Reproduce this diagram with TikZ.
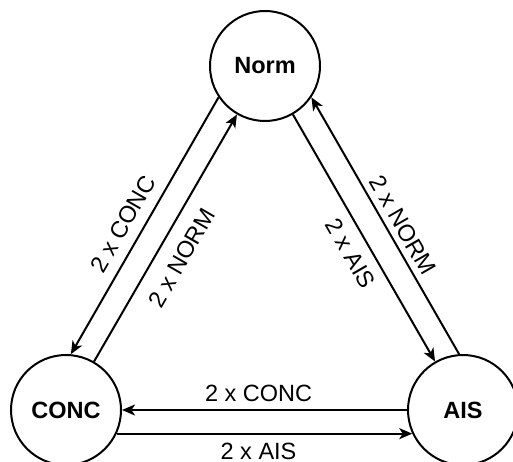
\documentclass[tikz,border=0pt]{standalone}
\usepackage{fontspec}
\setmainfont{Liberation Sans}
\usetikzlibrary{calc,arrows.meta}
\begin{document}
\begin{tikzpicture}[x=1pt,y=-1pt,
  state/.style={circle,draw,line width=2pt,minimum size=110pt,inner sep=0pt,font=\fontsize{23.5}{28}\selectfont\bfseries},
  flow/.style={line width=2pt,-{Stealth[length=13pt,width=11pt,inset=3.5pt]}},
  lbl/.style={font=\fontsize{23.5}{28}\selectfont,inner sep=0pt}]
\useasboundingbox (0,0) rectangle (513,462);
\clip (0,0) rectangle (513,462);
\node[state] (norm) at (265,66) {Norm};
\node[state] (conc) at (66,410) {CONC};
\node[state] (ais) at (463,410) {AIS};
\draw[flow] (norm.214.1) -- (conc.85.9);
\draw[flow] (conc) -- (norm);
\draw[flow] (norm) -- (ais);
\draw[flow] (ais.94.1) -- (norm.-34.1);
\draw[flow] (ais) -- (conc);
\draw[flow] (conc.-25.9) -- (ais.205.9);
\node[lbl,rotate=60] (l1) at ($(norm)!0.523!(conc)+(-37.8,-21.9)$) {2 x CONC};
\node[lbl,rotate=60] (l2) at ($(norm)!0.523!(conc)+(20.8,12)$) {2 x NORM};
\node[lbl,rotate=-60] (l3) at ($(norm)!0.517!(ais)+(-16.9,9.75)$) {2 x AIS};
\node[lbl,rotate=-60] (l4) at ($(norm)!0.521!(ais)+(34.6,-20)$) {2 x NORM};
\node[lbl] (l5) at ($(conc)!0.485!(ais)+(0,-16.5)$) {2 x CONC};
\node[lbl] (l6) at ($(conc)!0.485!(ais)+(0,41.5)$) {2 x AIS};
\end{tikzpicture}
\end{document}
